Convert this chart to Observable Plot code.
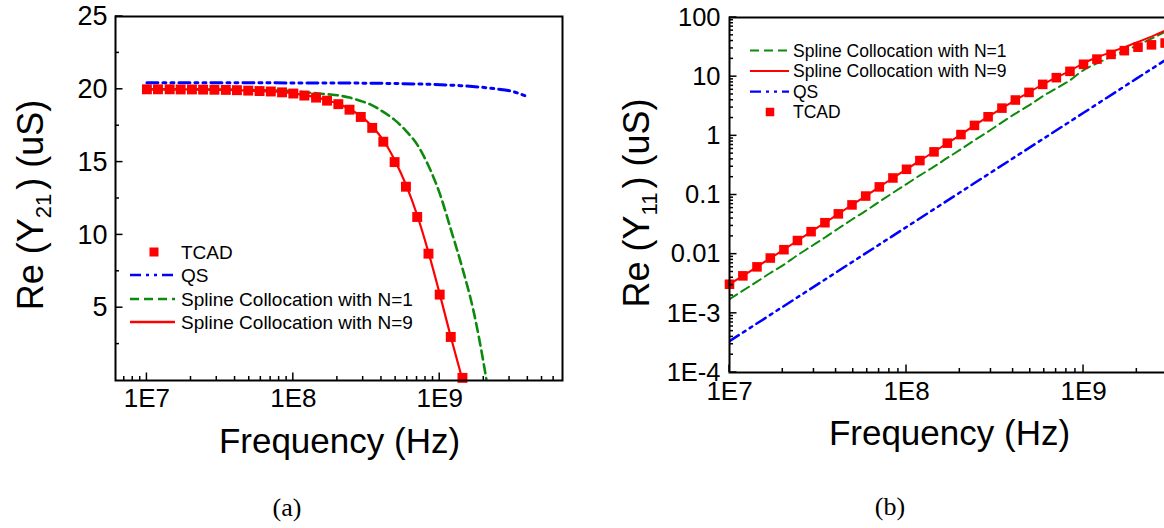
<!DOCTYPE html>
<html>
<head>
<meta charset="utf-8">
<script src="https://cdn.jsdelivr.net/npm/d3@7"></script>
<script src="https://cdn.jsdelivr.net/npm/@observablehq/plot@0.6"></script>
<style>
  html, body { margin: 0; padding: 0; background: #fff; overflow: hidden; }
  #wrap { position: relative; width: 1164px; height: 528px; overflow: hidden; background: #fff; }
  #panelA { position: absolute; left: 0; top: 0; width: 582px; height: 528px; }
  #panelB { position: absolute; left: 582px; top: 0; width: 606px; height: 528px; }
  svg { max-width: none !important; display: block; }
</style>
</head>
<body>
<div id="wrap"><div id="panelA"></div><div id="panelB"></div></div>
<script>
// Frequency grid (Hz), 13 points per decade
const freq = [1.00e7, 1.19e7, 1.43e7, 1.70e7, 2.03e7, 2.42e7, 2.89e7, 3.46e7, 4.12e7, 4.92e7, 5.88e7, 7.02e7, 8.38e7,
              1.00e8, 1.19e8, 1.43e8, 1.70e8, 2.03e8, 2.42e8, 2.89e8, 3.46e8, 4.12e8, 4.92e8, 5.88e8, 7.02e8, 8.38e8,
              1.00e9, 1.19e9, 1.43e9, 1.70e9, 2.03e9, 2.42e9, 2.89e9];

// (a) Re(Y21) in uS
const tcadY21 = [20.00, 20.00, 20.00, 19.99, 19.99, 19.98, 19.97, 19.96, 19.94, 19.91, 19.88, 19.85, 19.79,
                 19.71, 19.57, 19.43, 19.22, 18.98, 18.60, 18.10, 17.35, 16.40, 15.00, 13.31, 11.23, 8.71,
                 5.90, 2.99, 0.18];
const n9Y21 = [20.00, 20.00, 20.00, 19.99, 19.99, 19.98, 19.97, 19.96, 19.94, 19.91, 19.88, 19.85, 19.80,
               19.72, 19.60, 19.45, 19.25, 19.00, 18.65, 18.15, 17.45, 16.50, 15.15, 13.45, 11.35, 8.80,
               5.95, 3.00, 0.05];
const n1Y21 = [20.00, 20.00, 20.00, 20.00, 20.00, 19.99, 19.99, 19.98, 19.97, 19.96, 19.94, 19.92, 19.90,
               19.88, 19.80, 19.73, 19.66, 19.58, 19.43, 19.20, 18.90, 18.45, 17.90, 17.15, 16.20, 14.75,
               12.85, 10.40, 7.70, 4.80, 0.75, -4.20];
const qsFreqA = [1.00e7, 1.00e8, 3.16e8, 7.94e8, 1.38e9, 2.34e9, 3.16e9, 4.05e9];
const qsY21 = [20.45, 20.44, 20.42, 20.35, 20.25, 20.05, 19.85, 19.45];

// (b) Re(Y11) in uS
const tcadY11 = [0.0031, 0.0043, 0.0061, 0.0086, 0.0119, 0.0170, 0.0240, 0.0340, 0.0480, 0.0680, 0.0960, 0.137, 0.194,
                 0.272, 0.382, 0.536, 0.752, 1.05, 1.50, 2.10, 2.94, 4.03, 5.42, 7.41, 9.62, 12.3,
                 16.2, 19.8, 23.8, 27.5, 31.5, 34.5, 37.0];
const n9Y11 = [0.0031, 0.0043, 0.0061, 0.0086, 0.0119, 0.0170, 0.0240, 0.0340, 0.0480, 0.0680, 0.0960, 0.137, 0.194,
               0.272, 0.382, 0.536, 0.752, 1.05, 1.50, 2.10, 2.94, 4.03, 5.42, 7.41, 9.70, 12.5,
               17.0, 21.2, 26.0, 31.5, 38.5, 47.5, 60.0];
const n1Y11 = [0.00174, 0.00242, 0.00343, 0.00481, 0.00665, 0.0096, 0.0135, 0.0191, 0.0272, 0.0385, 0.054, 0.0769, 0.109,
               0.153, 0.215, 0.301, 0.423, 0.593, 0.84, 1.18, 1.69, 2.37, 3.27, 4.68, 6.35, 8.70,
               12.9, 16.8, 21.6, 27.1, 34.3, 43.8, 57.3];
const qsFreqB = [1e7, 2e7, 5e7, 1e8, 2e8, 5e8, 1e9, 2e9, 3e9];
const qsY11 = [3.39e-4, 1.29e-3, 7.57e-3, 0.0288, 0.110, 0.644, 2.45, 9.35, 20.4];

// Tick values and labels
const xTicks = [1e7, 1e8, 1e9];
const xTickLabels = ["1E7", "1E8", "1E9"];
const yTicksA = [5, 10, 15, 20, 25];
const yMinorA = [2.5, 7.5, 12.5, 17.5, 22.5];
const yTicksB = [1e-4, 1e-3, 1e-2, 1e-1, 1, 10, 100];
const yTickLabelsB = ["1E-4", "1E-3", "0.01", "0.1", "1", "10", "100"];

const FONT = '"Liberation Sans", Arial, Helvetica, sans-serif';
const SERIF = '"Liberation Serif", "Times New Roman", serif';
const RED = "#ff0000", GREEN = "#0b8a0b", BLUE = "#0000ff";
const DASH_N1 = "9,5", DASH_QS = "11,5,3,5,3,5";

const series = (xs, ys) => ys.map((v, i) => ({f: xs[i], v}));
const minorLog = (pLo, pHi, lo, hi) => {
  const out = [];
  for (let p = pLo; p <= pHi; p++) for (let m = 2; m <= 9; m++) {
    const v = m * Math.pow(10, p);
    if (v > lo && v < hi) out.push(v);
  }
  return out;
};
const labelOf = (ticks, labels) => { const m = new Map(ticks.map((t, i) => [t, labels[i]])); return d => m.get(d); };

// Inward-pointing major/minor ticks along the bottom and left edges, placed with the plot's own scales
function inwardTicks(plot, m, H, {xMajor, xMinor, yMajor, yMinor}) {
  const sx = plot.scale("x"), sy = plot.scale("y");
  const bottom = H - m.bottom, left = m.left;
  const g = d3.select(plot).append("g").attr("stroke", "black").attr("stroke-width", 1.5);
  const xt = (vals, len) => vals.forEach(v => {
    const X = sx.apply(v);
    g.append("line").attr("x1", X).attr("x2", X).attr("y1", bottom).attr("y2", bottom - len);
  });
  const yt = (vals, len) => vals.forEach(v => {
    const Y = sy.apply(v);
    g.append("line").attr("x1", left).attr("x2", left + len).attr("y1", Y).attr("y2", Y);
  });
  xt(xMinor, 4); xt(xMajor, 7.5); yt(yMinor, 4); yt(yMajor, 7.5);
}

function yTitle(svg, x, y, sub) {
  const t = svg.append("text")
    .attr("transform", `translate(${x},${y}) rotate(-90)`)
    .attr("text-anchor", "middle").attr("font-family", FONT).attr("font-size", 36).attr("fill", "black");
  t.append("tspan").text("Re (Y");
  t.append("tspan").attr("font-size", 22).attr("dy", 8).text(sub);
  t.append("tspan").attr("dy", -8).attr("dx", 4).text(") (uS)");
}

function simpleText(svg, x, y, txt, size, family = FONT) {
  svg.append("text").attr("x", x).attr("y", y).attr("text-anchor", "middle")
    .attr("font-family", family).attr("font-size", size).attr("fill", "black").text(txt);
}

function legend(svg, items, o) {
  const g = svg.append("g").attr("font-family", FONT).attr("font-size", o.fontSize)
    .attr("fill", "black").attr("text-anchor", "start");
  for (const it of items) {
    if (it.kind === "dot") {
      g.append("rect").attr("x", o.mx - o.ms / 2).attr("y", it.y - o.ms / 2)
        .attr("width", o.ms).attr("height", o.ms).attr("fill", RED);
    } else {
      g.append("line").attr("x1", o.x1).attr("x2", o.x2).attr("y1", it.y).attr("y2", it.y)
        .attr("stroke", it.stroke).attr("stroke-width", o.sw).attr("stroke-dasharray", it.dash || null);
    }
    g.append("text").attr("x", o.tx).attr("y", it.y).attr("dy", "0.36em")
      .attr("text-anchor", "start").text(it.label);
  }
}

// ---------- Panel (a): Re(Y21), linear y ----------
{
  const W = 582, H = 528, m = {left: 115, right: 20, top: 16, bottom: 148};
  const xDom = [6.1e6, 6.9e9];
  const svgA = Plot.plot({
    width: W, height: H,
    marginLeft: m.left, marginRight: m.right, marginTop: m.top, marginBottom: m.bottom,
    x: {type: "log", domain: xDom},
    y: {type: "linear", domain: [0, 25]},
    style: {fontFamily: FONT, background: "white", color: "black", overflow: "visible"},
    marks: [
      Plot.axisX(xTicks, {tickSize: 0, tickPadding: 8, fontSize: 26, label: null, tickFormat: labelOf(xTicks, xTickLabels)}),
      Plot.axisY(yTicksA, {tickSize: 0, tickPadding: 8, fontSize: 27, label: null}),
      Plot.line(series(qsFreqA, qsY21), {x: "f", y: "v", stroke: BLUE, strokeWidth: 3, strokeDasharray: DASH_QS, curve: "monotone-x", clip: true}),
      Plot.line(series(freq, n1Y21), {x: "f", y: "v", stroke: GREEN, strokeWidth: 2.6, strokeDasharray: DASH_N1, curve: "monotone-x", clip: true}),
      Plot.line(series(freq, n9Y21), {x: "f", y: "v", stroke: RED, strokeWidth: 2.2, curve: "monotone-x", clip: true}),
      Plot.dot(series(freq, tcadY21), {x: "f", y: "v", symbol: "square", r: 5.6, fill: RED}),
      Plot.frame({stroke: "black", strokeWidth: 2})
    ]
  });
  document.getElementById("panelA").appendChild(svgA);
  inwardTicks(svgA, m, H, {xMajor: xTicks, xMinor: minorLog(6, 9, xDom[0], xDom[1]), yMajor: yTicksA, yMinor: yMinorA});
  const s = d3.select(svgA);
  yTitle(s, 43, 205, "21");
  simpleText(s, 339.5, 453, "Frequency (Hz)", 35);
  simpleText(s, 287, 516, "(a)", 26, SERIF);
  legend(s, [
    {kind: "dot", y: 252, label: "TCAD"},
    {kind: "line", y: 275, stroke: BLUE, dash: DASH_QS, label: "QS"},
    {kind: "line", y: 299, stroke: GREEN, dash: DASH_N1, label: "Spline Collocation with N=1"},
    {kind: "line", y: 322, stroke: RED, label: "Spline Collocation with N=9"}
  ], {x1: 130, x2: 175, tx: 181, mx: 154, ms: 9, sw: 2.6, fontSize: 19});
}

// ---------- Panel (b): Re(Y11), log y ----------
{
  const W = 606, H = 528, m = {left: 147, right: 20.5, top: 17, bottom: 156};
  const xDom = [1e7, 3e9], yDom = [1e-4, 100];
  const svgB = Plot.plot({
    width: W, height: H,
    marginLeft: m.left, marginRight: m.right, marginTop: m.top, marginBottom: m.bottom,
    x: {type: "log", domain: xDom},
    y: {type: "log", domain: yDom},
    style: {fontFamily: FONT, background: "white", color: "black", overflow: "visible"},
    marks: [
      Plot.axisX(xTicks, {tickSize: 0, tickPadding: 9, fontSize: 26, label: null, tickFormat: labelOf(xTicks, xTickLabels)}),
      Plot.axisY(yTicksB, {tickSize: 0, tickPadding: 9, fontSize: 25.5, label: null, tickFormat: labelOf(yTicksB, yTickLabelsB)}),
      Plot.line(series(qsFreqB, qsY11), {x: "f", y: "v", stroke: BLUE, strokeWidth: 2.5, strokeDasharray: DASH_QS, curve: "monotone-x", clip: true}),
      Plot.line(series(freq, n1Y11), {x: "f", y: "v", stroke: GREEN, strokeWidth: 2, strokeDasharray: DASH_N1, curve: "monotone-x", clip: true}),
      Plot.line(series(freq, n9Y11), {x: "f", y: "v", stroke: RED, strokeWidth: 2, curve: "monotone-x", clip: true}),
      Plot.dot(series(freq, tcadY11), {x: "f", y: "v", symbol: "square", r: 5.4, fill: RED}),
      Plot.frame({stroke: "black", strokeWidth: 2})
    ]
  });
  document.getElementById("panelB").appendChild(svgB);
  inwardTicks(svgB, m, H, {xMajor: xTicks, xMinor: minorLog(7, 9, xDom[0], xDom[1]), yMajor: yTicksB, yMinor: minorLog(-4, 1, yDom[0], yDom[1])});
  const s = d3.select(svgB);
  yTitle(s, 66.5, 203, "11");
  simpleText(s, 367.5, 444.5, "Frequency (Hz)", 35);
  simpleText(s, 308, 515, "(b)", 26, SERIF);
  legend(s, [
    {kind: "line", y: 50.5, stroke: GREEN, dash: DASH_N1, label: "Spline Collocation with N=1"},
    {kind: "line", y: 71, stroke: RED, label: "Spline Collocation with N=9"},
    {kind: "line", y: 91.6, stroke: BLUE, dash: DASH_QS, label: "QS"},
    {kind: "dot", y: 112, label: "TCAD"}
  ], {x1: 168, x2: 207, tx: 211, mx: 188, ms: 8.5, sw: 2.2, fontSize: 17.5});
}
</script>
</body>
</html>
